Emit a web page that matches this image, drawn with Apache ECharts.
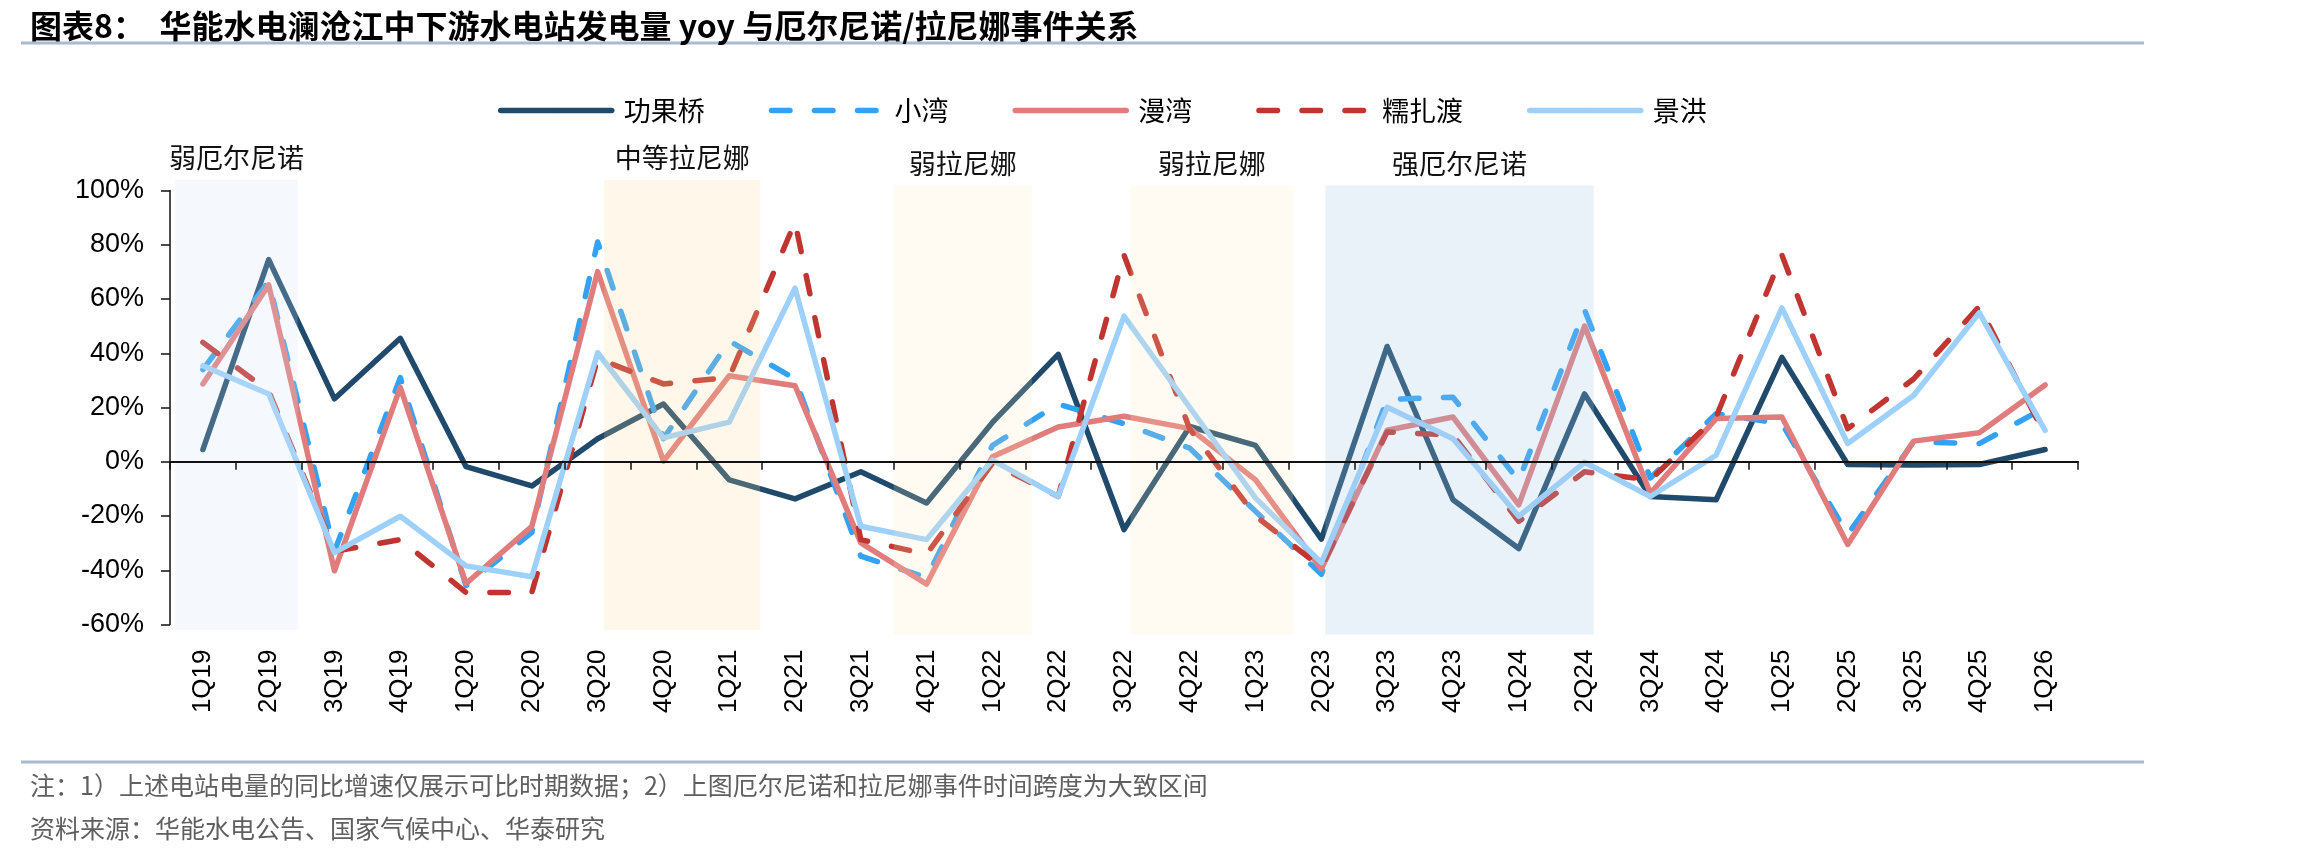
<!DOCTYPE html>
<html>
<head>
<meta charset="utf-8">
<script src="https://cdn.jsdelivr.net/npm/echarts@6/dist/echarts.min.js"></script>
<style>
  html, body { margin: 0; padding: 0; background: #fff; }
  #chart { width: 2298px; height: 858px; }
</style>
</head>
<body>
<div id="chart"></div>
<script>
const quarters = ['1Q19', '2Q19', '3Q19', '4Q19', '1Q20', '2Q20', '3Q20', '4Q20', '1Q21', '2Q21',
  '3Q21', '4Q21', '1Q22', '2Q22', '3Q22', '4Q22', '1Q23', '2Q23', '3Q23', '4Q23', '1Q24',
  '2Q24', '3Q24', '4Q24', '1Q25', '2Q25', '3Q25', '4Q25', '1Q26'];

// yoy, %
const gongguoqiao = [4.5, 74.5, 23.2, 45.5, -1.8, -8.9, 8.5, 21.3, -6.7, -13.7,
  -3.7, -15.2, 14.5, 39.6, -25, 13, 6, -28.5, 42.5, -14, -32,
  25, -12.8, -14, 38.5, -1, -1.2, -1, 4.5];
const xiaowan = [34, 66.5, -33, 31, -45.7, -26, 81, 8.5, 44.5, 30.5,
  -34.8, -42.7, 6, 21.3, 14, 5, -18.3, -41.5, 23, 23.8, -7,
  56, -6, 17.7, 14, -26.8, 7.3, 6.7, 20];
const manwan = [28.7, 65.2, -40.2, 27.4, -44.9, -23.8, 70.1, 0.2, 31.7, 28,
  -29.9, -45.1, 1.8, 12.8, 16.8, 12.2, -6.7, -39.6, 11.6, 16.5, -15.9,
  50, -11.6, 15.9, 16.5, -30.5, 7.6, 10.7, 28.3];
const nuozhadu = [44, 26, -33, -28.7, -48.2, -48.2, 38, 28.7, 31.1, 88.4,
  -28.7, -34.1, -0.6, -12.8, 76.2, 12, -20, -39, 11, 9.8, -22,
  -3.7, -6.7, 16.5, 76.2, 12.2, 30.5, 57.3, 9.8];
const jinghong = [35.4, 25, -33.5, -20.1, -38.4, -42.4, 40.2, 8.8, 14.6, 64,
  -23.8, -28.7, 0.6, -12.8, 53.7, 20, -13.4, -37.2, 20.1, 8.5, -20.1,
  -0.2, -12.8, 2.4, 56.7, 6.7, 24.4, 54.9, 11.6];

const seriesNames = ['功果桥', '小湾', '漫湾', '糯扎渡', '景洪'];
const seriesValues = [gongguoqiao, xiaowan, manwan, nuozhadu, jinghong];

// ENSO events, in quarter units from 1Q19 start
const ensoNames = ['弱厄尔尼诺', '中等拉尼娜', '弱拉尼娜', '弱拉尼娜', '强厄尔尼诺'];
const ensoStart = [0.08, 6.6, 11, 14.6, 17.56];
const ensoEnd = [1.94, 8.97, 13.1, 17.07, 21.64];

const yTicks = { min: -60, max: 100, interval: 20 };

const cjk = '"Noto Sans CJK SC", "Noto Sans", sans-serif';
const latin = '"Liberation Sans", Arial, sans-serif';

const lineColors = ['#1f4a6b', '#33a1f4', '#e07c7c', '#c0352f', '#9dd0fa'];
const lineDashes = ['solid', [18.5, 24.5], 'solid', [18.5, 24.5], 'solid'];

const ensoShades = [
  { color: 'rgba(210,228,246,0.22)', top: 104, bottom: -62 },
  { color: 'rgba(250,217,155,0.21)', top: 104, bottom: -62 },
  { color: 'rgba(255,234,187,0.19)', top: 101.8, bottom: -63.8 },
  { color: 'rgba(255,234,187,0.19)', top: 101.8, bottom: -63.8 },
  { color: 'rgba(162,196,230,0.24)', top: 101.8, bottom: -63.8 }
];

function renderEnso(params, api) {
  const i = api.value(2);
  const shade = ensoShades[i];
  const p0 = api.coord([api.value(0), shade.top]);
  const p1 = api.coord([api.value(1), shade.bottom]);
  return {
    type: 'group',
    children: [
      {
        type: 'rect',
        shape: { x: p0[0], y: p0[1], width: p1[0] - p0[0], height: p1[1] - p0[1] },
        style: { fill: shade.color }
      },
      {
        type: 'text',
        x: (p0[0] + p1[0]) / 2,
        y: p0[1] - 22,
        style: {
          text: ensoNames[i],
          fill: '#111',
          font: '27px ' + cjk,
          align: 'center',
          verticalAlign: 'middle'
        }
      }
    ]
  };
}

const chart = echarts.init(document.getElementById('chart'), null, { renderer: 'canvas' });

const lineSeries = seriesNames.map((name, i) => ({
  name,
  type: 'line',
  data: seriesValues[i],
  symbol: 'none',
  z: 2,
  lineStyle: { width: 5.5, color: lineColors[i], type: lineDashes[i], cap: 'round', join: 'round' },
  itemStyle: { color: lineColors[i] }
}));

chart.setOption({
  animation: false,
  backgroundColor: '#fff',
  title: [
    {
      text: '图表8：  华能水电澜沧江中下游水电站发电量 yoy 与厄尔尼诺/拉尼娜事件关系',
      left: 25, top: 5,
      textStyle: { fontSize: 32, fontWeight: 'bold', fontFamily: cjk, color: '#000' }
    },
    {
      text: '注：1）上述电站电量的同比增速仅展示可比时期数据；2）上图厄尔尼诺和拉尼娜事件时间跨度为大致区间',
      left: 25, top: 768,
      textStyle: { fontSize: 25, fontWeight: 'normal', fontFamily: cjk, color: '#5f5f5f' }
    },
    {
      text: '资料来源：华能水电公告、国家气候中心、华泰研究',
      left: 25, top: 811,
      textStyle: { fontSize: 25, fontWeight: 'normal', fontFamily: cjk, color: '#5f5f5f' }
    }
  ],
  graphic: [
    { type: 'line', shape: { x1: 21, y1: 43, x2: 2144, y2: 43 }, style: { stroke: '#a7bbd1', lineWidth: 3 } },
    { type: 'line', shape: { x1: 21, y1: 762, x2: 2144, y2: 762 }, style: { stroke: '#a7bbd1', lineWidth: 3 } }
  ],
  legend: {
    data: seriesNames,
    left: 493,
    top: 92,
    itemWidth: 111,
    itemHeight: 6,
    itemGap: 64,
    selectedMode: false,
    lineStyle: { width: 5.5 },
    textStyle: { fontSize: 27, fontFamily: cjk, color: '#000', padding: [0, 0, 0, 7] }
  },
  grid: { left: 170, right: 220, top: 190.5, bottom: 233.5, containLabel: false, outerBoundsMode: 'none' },
  xAxis: [
    {
      // zero line with boundary ticks
      type: 'category',
      data: quarters,
      z: 5,
      axisLine: { onZero: true, lineStyle: { color: '#111', width: 2 } },
      axisTick: { show: true, length: 8, lineStyle: { color: '#111', width: 1.5 } },
      axisLabel: { show: false },
      splitLine: { show: false }
    },
    {
      // quarter labels under the plot
      type: 'category',
      data: quarters,
      position: 'bottom',
      axisLine: { show: false, onZero: false },
      axisTick: { show: false },
      axisLabel: { rotate: 90, margin: 25, fontSize: 26, fontFamily: latin, color: '#000' },
      splitLine: { show: false }
    },
    { type: 'value', min: 0, max: quarters.length, show: false }
  ],
  yAxis: {
    type: 'value',
    min: yTicks.min,
    max: yTicks.max,
    interval: yTicks.interval,
    axisLine: { show: true, onZero: false, lineStyle: { color: '#111', width: 1.5 } },
    axisTick: { show: true, length: 9, lineStyle: { color: '#111', width: 1.5 } },
    axisLabel: { formatter: '{value}%', fontSize: 27, fontFamily: latin, color: '#000', margin: 26 },
    splitLine: { show: false }
  },
  series: [
    ...lineSeries,
    {
      name: 'enso',
      type: 'custom',
      xAxisIndex: 2,
      yAxisIndex: 0,
      z: 3,
      clip: false,
      silent: true,
      renderItem: renderEnso,
      data: ensoNames.map((name, i) => [ensoStart[i], ensoEnd[i], i])
    }
  ]
});
</script>
</body>
</html>
